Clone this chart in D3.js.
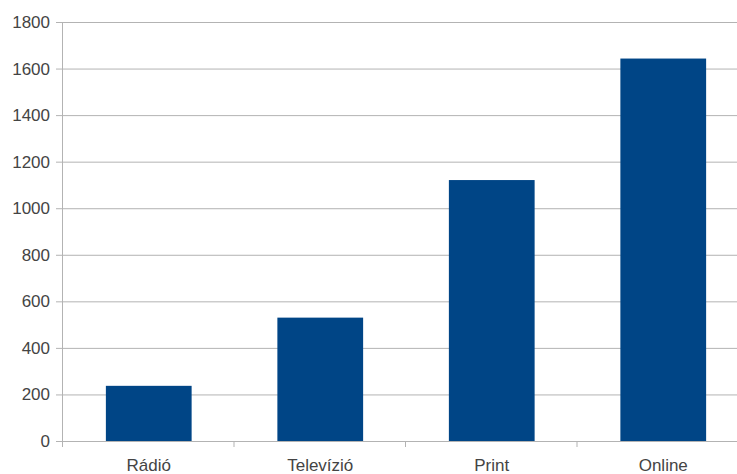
<!DOCTYPE html>
<html><head><meta charset="utf-8">
<script src="https://cdn.jsdelivr.net/npm/d3@7"></script>
<style>body{margin:0;background:#fff}svg{display:block}</style>
</head><body>
<svg id="c" width="737" height="474"></svg>
<script>
const categories = ["Rádió", "Televízió", "Print", "Online"];
const values = [237, 530, 1121, 1643];
const yTicks = [0, 200, 400, 600, 800, 1000, 1200, 1400, 1600, 1800];

(function () {
const svg = d3.select("#c");
const mLeft = 63, mRight = 749, mTop = 22, mBottom = 441;
const x = d3.scaleBand().domain(categories).range([mLeft, mRight]).paddingInner(0).paddingOuter(0);
const y = d3.scaleLinear().domain([0, 1800]).range([mBottom, mTop]);

svg.append("g").selectAll("line").data(yTicks).join("line")
  .attr("x1", mLeft - 7).attr("x2", 737)
  .attr("y1", d => y(d) + 0.5).attr("y2", d => y(d) + 0.5)
  .attr("stroke", "#b3b3b3").attr("stroke-width", 1);

svg.append("line").attr("x1", mLeft - 0.5).attr("x2", mLeft - 0.5)
  .attr("y1", mTop).attr("y2", mBottom + 6).attr("stroke", "#b3b3b3");

svg.append("g").selectAll("line").data(categories.slice(1)).join("line")
  .attr("x1", d => x(d) - 0.5).attr("x2", d => x(d) - 0.5)
  .attr("y1", mBottom).attr("y2", mBottom + 6).attr("stroke", "#b3b3b3");

svg.append("g").selectAll("rect").data(values).join("rect")
  .attr("x", (d, i) => x(categories[i]) + x.bandwidth() / 4)
  .attr("width", x.bandwidth() / 2)
  .attr("y", d => y(d))
  .attr("height", d => y(0) - y(d))
  .attr("fill", "#004586");

svg.append("g").selectAll("text").data(yTicks).join("text")
  .attr("x", 50).attr("y", d => y(d) + 6)
  .attr("text-anchor", "end")
  .attr("font-family", "Liberation Sans, Arial, sans-serif")
  .attr("font-size", 17).attr("fill", "#444")
  .text(d => d);

svg.append("g").selectAll("text").data(categories).join("text")
  .attr("x", d => x(d) + x.bandwidth() / 2).attr("y", 471)
  .attr("text-anchor", "middle")
  .attr("font-family", "Liberation Sans, Arial, sans-serif")
  .attr("font-size", 17).attr("fill", "#444")
  .text(d => d);
})();
</script>
</body></html>
